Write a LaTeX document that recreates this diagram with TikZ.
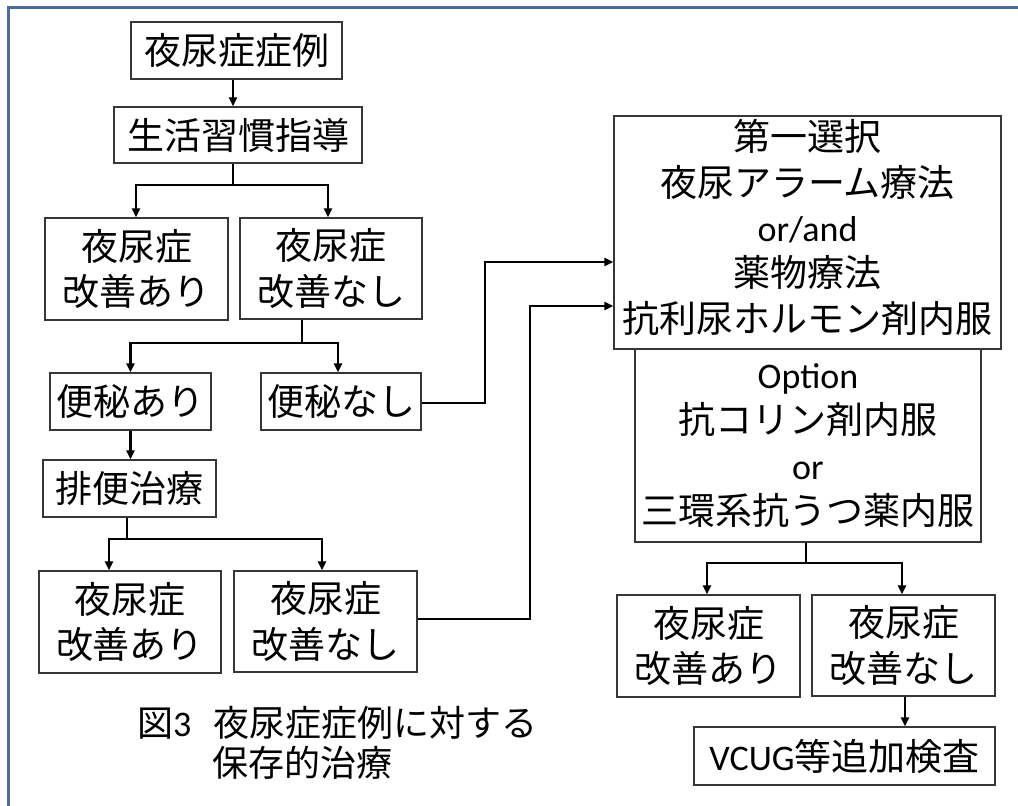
\documentclass[tikz,border=0pt]{standalone}
\usepackage{fontspec}
\setmainfont{Noto Sans CJK JP}
\newfontfamily\lat{Carlito}
\usetikzlibrary{arrows.meta,calc}
\definecolor{frameblue}{RGB}{74,108,158}
\definecolor{boxgray}{RGB}{55,55,55}
\newcommand{\latin}[1]{{\lat\fontsize{36}{45.5}\selectfont #1}}
\begin{document}
\begin{tikzpicture}[x=1pt,y=-1pt,
  bx/.style={draw=boxgray,line width=1.2pt,inner sep=0pt,align=center,
    font=\fontsize{37}{45.5}\selectfont},
  txt/.style={inner sep=0pt,align=center,font=\fontsize{37}{45.3}\selectfont},
  conn/.style={line width=2.2pt,black},
  arr/.style={conn,-{Triangle[length=9pt,width=8pt]}},
  captxt/.style={inner sep=0pt,anchor=west,font=\fontsize{36}{45}\selectfont}]
\useasboundingbox[fill=white] (0,0) rectangle (1018,806);
\draw[frameblue,line width=3pt] (8,806) -- (8,7) -- (1018,7);

% left column
\node[bx,minimum width=211pt,minimum height=57pt] (n1) at (236.5,50.5) {夜尿症症例};
\node[bx,minimum width=248pt,minimum height=56pt] (n2) at (238,135) {生活習慣指導};
\node[bx,minimum width=183pt,minimum height=102pt] (a1) at (136.5,269) {夜尿症\\改善あり};
\node[bx,minimum width=182pt,minimum height=101pt] (a2) at (331,268.5) {夜尿症\\改善なし};
\node[bx,minimum width=161pt,minimum height=57pt] (b1) at (130.5,401.5) {便秘あり};
\node[bx,minimum width=160pt,minimum height=57pt] (b2) at (341,401.5) {便秘なし};
\node[bx,minimum width=173pt,minimum height=57pt] (c) at (129.5,488.5) {排便治療};
\node[bx,minimum width=182pt,minimum height=102pt] (d1) at (130,622) {夜尿症\\改善あり};
\node[bx,minimum width=183pt,minimum height=101pt] (d2) at (325.5,621.5) {夜尿症\\改善なし};

% right column
\node[bx,minimum width=387pt,minimum height=233pt] (e) at (807.5,232.5) {};
\node[txt] (et) at ([yshift=5pt]e.center)
  {第一選択\\夜尿アラーム療法\\\latin{or/and}\\薬物療法\\抗利尿ホルモン剤内服};
\node[bx,minimum width=346pt,minimum height=193pt] (f) at (808,445.5)
  {\latin{Option}\\抗コリン剤内服\\\latin{or}\\三環系抗うつ薬内服};
\node[bx,minimum width=183pt,minimum height=102pt] (g1) at (708.5,646) {夜尿症\\改善あり};
\node[bx,minimum width=183pt,minimum height=101pt] (g2) at (903.5,645.5) {夜尿症\\改善なし};
\node[bx,minimum width=301pt,minimum height=58pt] (h) at (844.5,756) {\latin{VCUG}等追加検査};

% caption
\node[captxt] (cap1) at (137,723) {図{\lat 3}\hspace{22pt}夜尿症症例に対する};
\node[captxt] (cap2) at (212,763) {保存的治療};

% connectors
\draw[arr] ([xshift=-3.5pt]n1.south) -- ([xshift=-3.5pt]n1.south |- n2.north);
\draw[conn] ([xshift=-5pt]n2.south) -- ++(0,21) coordinate (j1);
\draw[arr] (j1) -| ([xshift=-0.5pt]a1.north);
\draw[arr] (j1) -| ([xshift=-3pt]a2.north);

\draw[conn] ([xshift=-29pt]a2.south) -- ++(0,23) coordinate (j2);
\draw[arr] (j2) -| (b1.north);
\draw[arr] (j2) -| ([xshift=-3pt]b2.north);

\draw[arr] (b1.south) -- (b1.south |- c.north);
\draw[conn] ([xshift=-2.5pt]c.south) -- ++(0,21) coordinate (j3);
\draw[arr] (j3) -| ([xshift=-21pt]d1.north);
\draw[arr] (j3) -| ([xshift=-3.5pt]d2.north);

\draw[arr] ([yshift=-1.5pt]b2.east) -- ++(63,0) |- ([yshift=-29.5pt]e.west);
\draw[arr] ([yshift=2.5pt]d2.east) -- ++(112,0) |- ([yshift=-73.5pt]e.west);

\draw[conn] ([xshift=-2pt]f.south) -- ++(0,20) coordinate (j4);
\draw[arr] (j4) -| ([xshift=-1.5pt]g1.north);
\draw[arr] (j4) -| ([xshift=-1.5pt]g2.north);
\draw[arr] ([xshift=1.5pt]g2.south) -- ([xshift=1.5pt]g2.south |- h.north);
\end{tikzpicture}
\end{document}
